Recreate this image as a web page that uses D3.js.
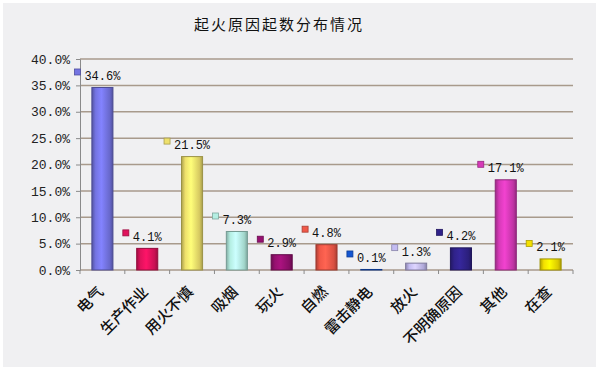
<!DOCTYPE html>
<html>
<head>
<meta charset="utf-8">
<script src="https://cdn.jsdelivr.net/npm/d3@7"></script>
<style>
	body { margin: 0; background: #ffffff; }
	svg  { display: block; }
</style>
</head>
<body>
<svg id="svg"></svg>
<script>
var title      = "起火原因起数分布情况";
var categories = ["电气", "生产作业", "用火不慎", "吸烟", "玩火", "自燃", "雷击静电", "放火", "不明确原因", "其他", "在查"];
var values     = [34.6, 4.1, 21.5, 7.3, 2.9, 4.8, 0.1, 1.3, 4.2, 17.1, 2.1];
var colors     = ["#7474e2", "#e0125c", "#eee06c", "#b4eee2", "#961070", "#f05848", "#1456d2", "#c4bcf2", "#30228a", "#d63ab8", "#f4e000"];
var y_ticks    = [0, 5, 10, 15, 20, 25, 30, 35, 40];

var outer_width  = 600;
var outer_height = 370;
var plot         = {left: 80, right: 573, top: 59, bottom: 270};

var svg = d3.select("#svg")
	    .attr("width",  outer_width)
	    .attr("height", outer_height);

// panel
svg.append("rect")
	.attr("x", 3).attr("y", 3)
	.attr("width", 593).attr("height", 364)
	.attr("fill", "#f0f0f2");

var x = d3.scaleBand()
	    .domain(categories)
	    .range([plot.left, plot.right])
	    .padding(0);

var y = d3.scaleLinear()
	    .domain([0, 40])
	    .range([plot.bottom, plot.top]);

// gradients, one per bar (3d-ish shading)
var defs = svg.append("defs");
categories.forEach(function(c, i) {
	var base = d3.color(colors[i]);
	var g = defs.append("linearGradient")
		    .attr("id", "grad" + i)
		    .attr("x1", "0%").attr("x2", "100%")
		    .attr("y1", "0%").attr("y2", "0%");
	g.append("stop").attr("offset", "0%").attr("stop-color", base.darker(0.9));
	g.append("stop").attr("offset", "18%").attr("stop-color", base);
	g.append("stop").attr("offset", "45%").attr("stop-color", base.brighter(0.35));
	g.append("stop").attr("offset", "85%").attr("stop-color", base.darker(0.3));
	g.append("stop").attr("offset", "100%").attr("stop-color", base.darker(1.0));
});

// gridlines
svg.append("g")
	.selectAll("line")
	.data(y_ticks)
	.enter()
	.append("line")
	.attr("x1", plot.left)
	.attr("x2", plot.right)
	.attr("y1", function(d) { return y(d); })
	.attr("y2", function(d) { return y(d); })
	.attr("stroke", "#a89a8c")
	.attr("stroke-width", 1.5);

// y axis
var yAxis = svg.append("g")
	    .attr("transform", "translate(" + plot.left + ",0)")
	    .call(d3.axisLeft(y)
		  .tickValues(y_ticks)
		  .tickSize(4)
		  .tickPadding(6)
		  .tickFormat(function(d) { return d.toFixed(1) + "%"; }));
yAxis.select(".domain").attr("stroke", "#8a8a8a");
yAxis.selectAll(".tick line").attr("stroke", "#8a8a8a");
yAxis.selectAll("text")
	.attr("font-family", "Liberation Mono, monospace")
	.attr("font-size", 13)
	.attr("fill", "#222");

// x tick marks at band edges
var edges = categories.map(function(c) { return x(c); }).concat([plot.right]);
svg.append("g")
	.selectAll("line")
	.data(edges)
	.enter()
	.append("line")
	.attr("x1", function(d) { return d; })
	.attr("x2", function(d) { return d; })
	.attr("y1", plot.bottom)
	.attr("y2", plot.bottom + 4)
	.attr("stroke", "#8a8a8a");

// bars
var bw = x.bandwidth() * 0.47;
svg.append("g")
	.selectAll("rect")
	.data(values)
	.enter()
	.append("rect")
	.attr("x", function(d, i) { return x(categories[i]) + x.bandwidth() / 2 - bw / 2; })
	.attr("y", function(d) { return y(d); })
	.attr("width", bw)
	.attr("height", function(d) { return y(0) - y(d); })
	.attr("fill", function(d, i) { return "url(#grad" + i + ")"; })
	.attr("stroke", function(d, i) { return d3.color(colors[i]).darker(1.2); })
	.attr("stroke-width", 1);

// data labels with legend keys
var labels = svg.append("g");
values.forEach(function(v, i) {
	var cx  = x(categories[i]) + x.bandwidth() / 2;
	var by  = y(v) - 7.5;
	var txt = v.toFixed(1) + "%";
	var tw  = txt.length * 7.2;
	labels.append("rect")
		.attr("x", cx - tw / 2 - 10)
		.attr("y", by - 11)
		.attr("width", 6)
		.attr("height", 6)
		.attr("fill", colors[i])
		.attr("stroke", d3.color(colors[i]).darker(1))
		.attr("stroke-width", 0.8);
	labels.append("text")
		.attr("x", cx)
		.attr("y", by)
		.attr("text-anchor", "middle")
		.attr("font-family", "Liberation Mono, monospace")
		.attr("font-size", 12)
		.attr("fill", "#111")
		.text(txt);
});

// category labels, rotated
svg.append("g")
	.selectAll("text")
	.data(categories)
	.enter()
	.append("text")
	.attr("transform", function(d) {
		return "translate(" + (x(d) + x.bandwidth() / 2 + 2) + "," + 293 + ") rotate(-45)";
	})
	.attr("text-anchor", "end")
	.attr("font-family", "Noto Sans CJK SC, sans-serif")
	.attr("font-size", 15)
	.attr("font-weight", 500)
	.attr("fill", "#111")
	.text(function(d) { return d; });

// title
svg.append("text")
	.attr("x", 279)
	.attr("y", 30)
	.attr("text-anchor", "middle")
	.attr("font-family", "Noto Sans CJK SC, sans-serif")
	.attr("font-size", 15)
	.attr("letter-spacing", 2)
	.attr("fill", "#111")
	.text(title);
</script>
</body>
</html>
